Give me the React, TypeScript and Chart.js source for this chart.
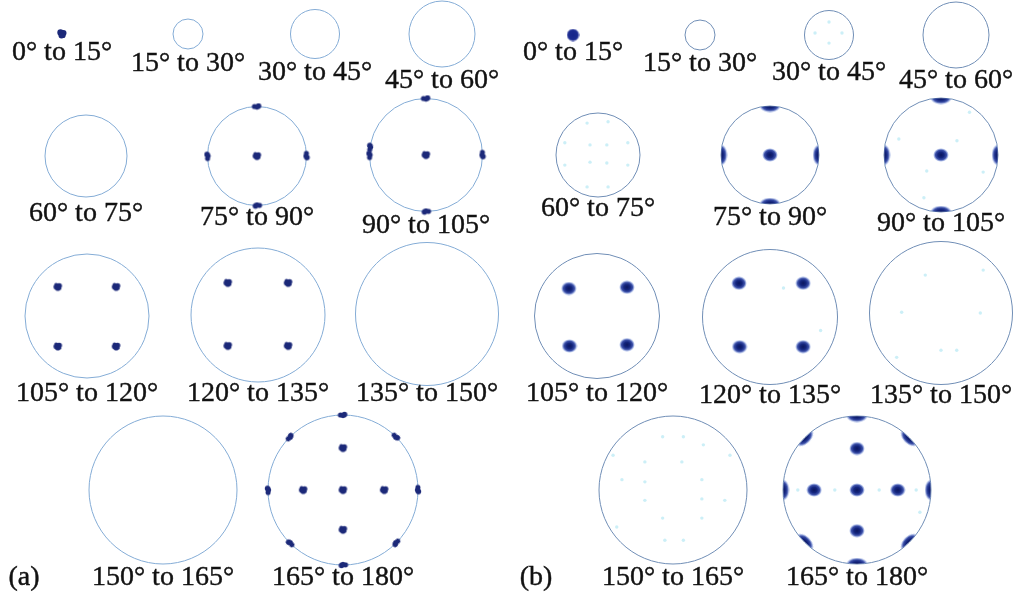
import { useEffect, useRef } from "react";
import { Chart, registerables } from "chart.js";

Chart.register(...registerables);

// Misorientation-angle bins, one pole figure per bin
const angleBins: string[] = [
  "0° to 15°", "15° to 30°", "30° to 45°", "45° to 60°",
  "60° to 75°", "75° to 90°", "90° to 105°",
  "105° to 120°", "120° to 135°", "135° to 150°",
  "150° to 165°", "165° to 180°",
];

// Projected pole positions (unit circle, y up) for each bin — panel (a), discrete orientations
const polesA: number[][][] = [
  [[0, 0]],
  [],
  [],
  [],
  [],
  [[0, 0], [0, 1], [0, -1], [-1, 0], [1, 0]],
  [[0, 0], [0, 1], [0, -1], [-1, 0], [1, 0], [-0.99, 0.14]],
  [[-0.47, 0.47], [0.47, 0.47], [-0.47, -0.49], [0.47, -0.49]],
  [[-0.45, 0.48], [0.45, 0.48], [-0.45, -0.46], [0.45, -0.46]],
  [],
  [],
  [
    [0, 0], [0, 1], [0, -1], [-1, 0], [1, 0],
    [-0.53, 0], [0.55, 0], [0, 0.56], [0, -0.53],
    [-0.707, 0.707], [0.707, 0.707], [-0.707, -0.707], [0.707, -0.707],
  ],
];

// Density maxima for each bin — panel (b)
const polesB: number[][][] = [
  [[0, 0]],
  [],
  [],
  [],
  [],
  [[0, 0], [0, 1], [0, -1], [-1, 0], [1, 0]],
  [[0, 0], [0, 1], [0, -1], [-1, 0], [1, 0]],
  [[-0.45, 0.44], [0.48, 0.46], [-0.44, -0.48], [0.48, -0.46]],
  [[-0.46, 0.5], [0.49, 0.5], [-0.45, -0.44], [0.49, -0.44]],
  [],
  [],
  [
    [0, 0], [0, 1], [0, -1], [-1, 0], [1, 0],
    [-0.58, 0], [0.55, 0], [0, 0.56], [0, -0.55],
    [-0.707, 0.707], [0.707, 0.707], [-0.707, -0.707], [0.707, -0.707],
  ],
];

// Weak density traces for panel (b)
const tracesB: number[][][] = [
  [],
  [],
  [[0, 0.53], [0.53, 0.08], [-0.57, 0.08], [0, -0.33]],
  [],
  [
    [-0.26, 0.76], [0.24, 0.79], [-0.79, 0.29], [0.71, 0.29],
    [-0.19, 0.24], [0.21, 0.24], [-0.19, -0.17], [0.21, -0.19],
    [-0.79, -0.24], [0.71, -0.24], [-0.26, -0.76], [0.24, -0.76],
  ],
  [],
  [[-0.74, 0.28], [0.28, 0.25], [-0.25, -0.28], [0.74, -0.3], [-0.3, -0.75], [0.5, 0.75]],
  [],
  [[0.2, 0.43], [0.75, -0.2]],
  [[-0.22, 0.53], [0.59, 0.6], [-0.55, 0.01], [0.55, 0], [0, -0.52], [0.22, -0.52], [-0.62, -0.62]],
  [
    [-0.14, 0.72], [0.14, 0.72], [0.41, 0.61], [-0.38, 0.38], [0.12, 0.38],
    [-0.69, 0.14], [-0.38, 0.11], [0.39, 0.14], [0.7, -0.14], [0.39, -0.12],
    [-0.38, -0.14], [-0.14, -0.38], [0.39, -0.38], [-0.11, -0.68], [0.14, -0.68],
    [-0.81, 0.47], [0.77, 0.47], [-0.76, -0.5],
  ],
  [[-0.3, 0], [0.3, 0], [0.8, 0], [-0.8, 0], [0.85, -0.3]],
];

// Figure layout (page units): centre x, centre y, radius, label line y
const layoutA = {
  cx: [62, 188, 315, 442, 86, 257, 426, 87, 258, 427, 163, 343],
  cy: [34, 34, 34, 34, 156, 156, 155, 316, 315, 314, 490, 490],
  r: [3, 15, 24.5, 33, 41, 49.5, 56.5, 62, 67, 71.5, 74, 75],
  ly: [53, 64, 73, 81, 214, 218, 226, 394, 394, 394, 578, 578],
};
const layoutB = {
  cx: [573, 700, 829, 956, 598, 770, 941, 597, 770, 941, 673, 857],
  cy: [35, 35, 35, 35, 155, 155, 155, 316, 317, 313, 490, 490],
  r: [3, 15, 24.5, 33, 42, 49, 57, 62.5, 67.5, 71.5, 74, 74],
  ly: [53, 64, 73, 81, 209, 218, 224, 394, 396, 396, 578, 578],
};
const panelTags = ["(a)", "(b)"];
const panelTagPos = [[24, 578], [536, 578]];

type Layout = typeof layoutA;
type Pt = { x: number; y: number; r?: number; edge?: boolean; rot?: number; big?: boolean };

function placePoles(poles: number[][][], lay: Layout, bin: number): Pt[] {
  const cx = lay.cx[bin], cy = lay.cy[bin], r = lay.r[bin];
  return poles[bin].map(([px, py]) => {
    const edge = Math.hypot(px, py) > 0.95;
    const rot = 90 - (Math.atan2(py, px) * 180) / Math.PI;
    return { x: cx + px * r, y: cy - py * r, edge, rot, big: bin === 0 };
  });
}

function makeBlob(w: number, h: number, stops: [number, string][]): HTMLCanvasElement {
  const c = document.createElement("canvas");
  c.width = w;
  c.height = h;
  const g = c.getContext("2d")!;
  g.translate(w / 2, h / 2);
  g.scale(w / 2, h / 2);
  const grad = g.createRadialGradient(0, 0, 0, 0, 0, 1);
  stops.forEach(([o, col]) => grad.addColorStop(o, col));
  g.fillStyle = grad;
  g.beginPath();
  g.arc(0, 0, 1, 0, Math.PI * 2);
  g.fill();
  return c;
}

function makeCluster(w: number, h: number, blobs: number[][], color: string): HTMLCanvasElement {
  const c = document.createElement("canvas");
  c.width = w;
  c.height = h;
  const g = c.getContext("2d")!;
  g.fillStyle = color;
  blobs.forEach(([x, y, rr]) => {
    g.beginPath();
    g.arc(x, y, rr, 0, Math.PI * 2);
    g.fill();
  });
  return c;
}

export default function App() {
  const canvasRef = useRef<HTMLCanvasElement | null>(null);

  useEffect(() => {
    const canvas = canvasRef.current;
    if (!canvas) return;

    const densityStops: [number, string][] = [
      [0, "#0b165e"],
      [0.4, "#14267f"],
      [0.7, "rgba(40,62,160,0.9)"],
      [0.88, "rgba(90,120,205,0.45)"],
      [1, "rgba(140,170,230,0)"],
    ];
    const coreImg = makeBlob(16, 14, densityStops);
    const edgeImg = makeBlob(22, 13, densityStops);
    const bigDotImg = makeBlob(13, 13, [
      [0, "#16248a"],
      [0.75, "#1b2b8f"],
      [0.9, "rgba(30,45,150,0.7)"],
      [1, "rgba(30,45,150,0)"],
    ]);
    const dotColor = "#1c2979";
    const clusterImg = makeCluster(11, 11, [[4.2, 5.5, 3], [6.8, 4.5, 2.8], [5.5, 7, 2.6], [3.8, 3.4, 1.8], [7.5, 7, 1.6]], dotColor);
    const clusterEdgeImg = makeCluster(13, 8, [[4, 4, 2.6], [8, 3.6, 2.8], [6.5, 4.8, 2.4]], dotColor);
    const clusterBigImg = makeCluster(12, 12, [[4.5, 4.5, 3.2], [7.5, 5, 3], [5.5, 7.5, 3], [7, 7.5, 2.6]], dotColor);

    const ringsA: Pt[] = angleBins.map((_, i) => ({ x: layoutA.cx[i], y: layoutA.cy[i], r: layoutA.r[i] }));
    const ringsB: Pt[] = angleBins.map((_, i) => ({ x: layoutB.cx[i], y: layoutB.cy[i], r: layoutB.r[i] }));

    const radiusOf = (c: any) => {
      const xs = c.chart.scales.x;
      const raw = c.raw as Pt;
      if (!xs || !raw || raw.r === undefined) return 0;
      return Math.abs(xs.getPixelForValue(raw.x + raw.r) - xs.getPixelForValue(raw.x));
    };

    const ringDataset = (data: Pt[], color: string) => ({
      type: "scatter" as const,
      data,
      order: 10,
      pointRadius: radiusOf,
      pointHoverRadius: radiusOf,
      pointBackgroundColor: "rgba(0,0,0,0)",
      pointBorderColor: color,
      pointBorderWidth: 1,
    });

    const dotsA: Pt[] = angleBins.flatMap((_, i) => placePoles(polesA, layoutA, i));

    const datasets: any[] = [
      ringDataset(ringsA, "rgb(132,172,214)"),
      ringDataset(ringsB, "rgb(112,142,182)"),
      {
        type: "scatter",
        data: dotsA,
        order: 0,
        pointRadius: 4,
        pointStyle: (c: any) => {
          const raw = c.raw as Pt;
          if (raw.big) return clusterBigImg;
          return raw.edge ? clusterEdgeImg : clusterImg;
        },
        pointRotation: (c: any) => ((c.raw as Pt).edge ? (c.raw as Pt).rot : 0),
      },
    ];

    // panel (b): traces + maxima, clipped to each figure's circle
    angleBins.forEach((_, i) => {
      const traces = tracesB[i].map(([px, py]) => ({
        x: layoutB.cx[i] + px * layoutB.r[i],
        y: layoutB.cy[i] - py * layoutB.r[i],
      }));
      if (traces.length) {
        datasets.push({
          type: "scatter",
          data: traces,
          order: 5,
          pointRadius: 1.7,
          pointBorderWidth: 0,
          pointBackgroundColor: "rgba(170,228,242,0.6)",
          clipFigure: i,
        });
      }
      const maxima = placePoles(polesB, layoutB, i);
      if (maxima.length) {
        datasets.push({
          type: "scatter",
          data: maxima,
          order: 1,
          pointRadius: 7,
          pointStyle: (c: any) => {
            const raw = c.raw as Pt;
            if (raw.big) return bigDotImg;
            return raw.edge ? edgeImg : coreImg;
          },
          pointRotation: (c: any) => ((c.raw as Pt).edge ? (c.raw as Pt).rot : 0),
          clipFigure: i === 0 ? undefined : i,
        });
      }
    });

    const circleClip = {
      id: "circleClip",
      beforeDatasetDraw(chart: any, args: any) {
        const ds = chart.data.datasets[args.index];
        if (ds.clipFigure === undefined) return;
        const i = ds.clipFigure as number;
        const xs = chart.scales.x, ys = chart.scales.y;
        const px = xs.getPixelForValue(layoutB.cx[i]);
        const py = ys.getPixelForValue(layoutB.cy[i]);
        const pr = Math.abs(xs.getPixelForValue(layoutB.cx[i] + layoutB.r[i]) - px) - 0.3;
        const ctx = chart.ctx;
        ctx.save();
        ctx.beginPath();
        ctx.arc(px, py, pr, 0, Math.PI * 2);
        ctx.clip();
      },
      afterDatasetDraw(chart: any, args: any) {
        const ds = chart.data.datasets[args.index];
        if (ds.clipFigure === undefined) return;
        chart.ctx.restore();
      },
    };

    const binLabels = {
      id: "binLabels",
      afterDatasetsDraw(chart: any) {
        const ctx = chart.ctx;
        const xs = chart.scales.x, ys = chart.scales.y;
        ctx.save();
        ctx.fillStyle = "#121212";
        ctx.strokeStyle = "#121212";
        ctx.lineWidth = 0.4;
        ctx.font = '28px "Liberation Serif", "Times New Roman", serif';
        ctx.textAlign = "center";
        ctx.textBaseline = "middle";
        const put = (t: string, x: number, y: number) => {
          const px = xs.getPixelForValue(x), py = ys.getPixelForValue(y);
          ctx.fillText(t, px, py);
          ctx.strokeText(t, px, py);
        };
        [layoutA, layoutB].forEach((lay) => {
          angleBins.forEach((txt, i) => put(txt, lay.cx[i], lay.ly[i]));
        });
        panelTags.forEach((tag, k) => put(tag, panelTagPos[k][0], panelTagPos[k][1]));
        ctx.restore();
      },
    };

    const chart = new Chart(canvas, {
      type: "scatter",
      data: { datasets },
      options: {
        animation: false,
        responsive: true,
        maintainAspectRatio: false,
        events: [],
        layout: { padding: 0, autoPadding: false },
        plugins: { legend: { display: false }, tooltip: { enabled: false } },
        scales: {
          x: { type: "linear", min: 0, max: 1020, display: false },
          y: { type: "linear", min: 0, max: 601, reverse: true, display: false },
        },
      },
      plugins: [circleClip, binLabels],
    });

    return () => chart.destroy();
  }, []);

  return (
    <div style={{ position: "absolute", left: 0, top: 0, width: 1020, height: 601, background: "#fff" }}>
      <canvas ref={canvasRef} style={{ display: "block" }} />
    </div>
  );
}
